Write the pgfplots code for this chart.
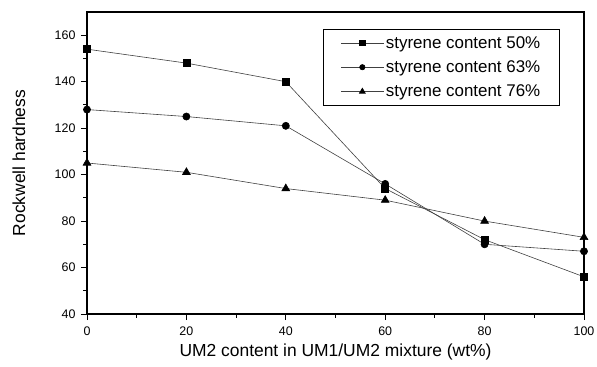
\documentclass[border=0pt]{standalone}
\usepackage{pgfplots}
\pgfplotsset{compat=1.18}
\usepackage{fontspec}
\setmainfont{Liberation Sans}
\begin{document}
\begin{tikzpicture}
\begin{axis}[
  name=ax,
  scale only axis,
  width=497bp, height=302bp,
  xmin=0, xmax=100, ymin=40, ymax=170,
  xtick={0,20,...,100}, ytick={40,60,...,160},
  minor xtick={10,30,...,90}, minor ytick={50,70,...,150},
  axis line style={line width=1.4pt},
  tick align=outside, tick pos=left,
  major tick length=6bp, minor tick length=3.5bp,
  every tick/.style={black, line width=0.9pt},
  /pgf/number format/assume math mode=true,
  tick label style={font=\fontsize{12.5}{14}\selectfont},
  yticklabel style={xshift=-2bp},
  xticklabel style={yshift=-3bp},
  xlabel={UM2 content in UM1/UM2 mixture (wt\%)},
  ylabel={Rockwell hardness},
  label style={font=\fontsize{17.5}{20}\selectfont},
  xlabel style={at={(axis description cs:0.5,-0.126)}, anchor=center},
  ylabel style={at={(axis description cs:-0.137,0.5)}, anchor=center},
  legend style={at={(axis description cs:0.952,0.944)}, anchor=north east, draw=black, line width=0.7pt,
    font=\fontsize{17}{20}\selectfont, row sep=7bp, inner xsep=17.5bp, inner ysep=5bp},
  legend cell align=left,
  legend image code/.code={\draw[mark repeat=2,mark phase=2] plot coordinates {(0cm,0cm)(0.75cm,0cm)(1.5cm,0cm)};},
  legend image post style={every mark/.append style={scale=0.75}},
  clip=false,
]
\addplot[black!75, line width=0.6pt, mark=square*, mark size=3.6pt, mark options={black, solid}]
  coordinates {(0,154) (20,148) (40,140) (60,94) (80,72) (100,56)};
\addlegendentry{styrene content 50\%}
\addplot[black!75, line width=0.6pt, mark=*, mark size=3.6pt, mark options={black}]
  coordinates {(0,128) (20,125) (40,121) (60,96) (80,70) (100,67)};
\addlegendentry{styrene content 63\%}
\addplot[black!75, line width=0.6pt, mark=triangle*, mark size=4.5pt, mark options={black}]
  coordinates {(0,105) (20,101) (40,94) (60,89) (80,80) (100,73)};
\addlegendentry{styrene content 76\%}
\end{axis}
\pgfresetboundingbox
\path[use as bounding box] ([xshift=-87bp,yshift=-53bp]ax.south west) rectangle ([xshift=13bp,yshift=12bp]ax.north east);
\end{tikzpicture}
\end{document}
